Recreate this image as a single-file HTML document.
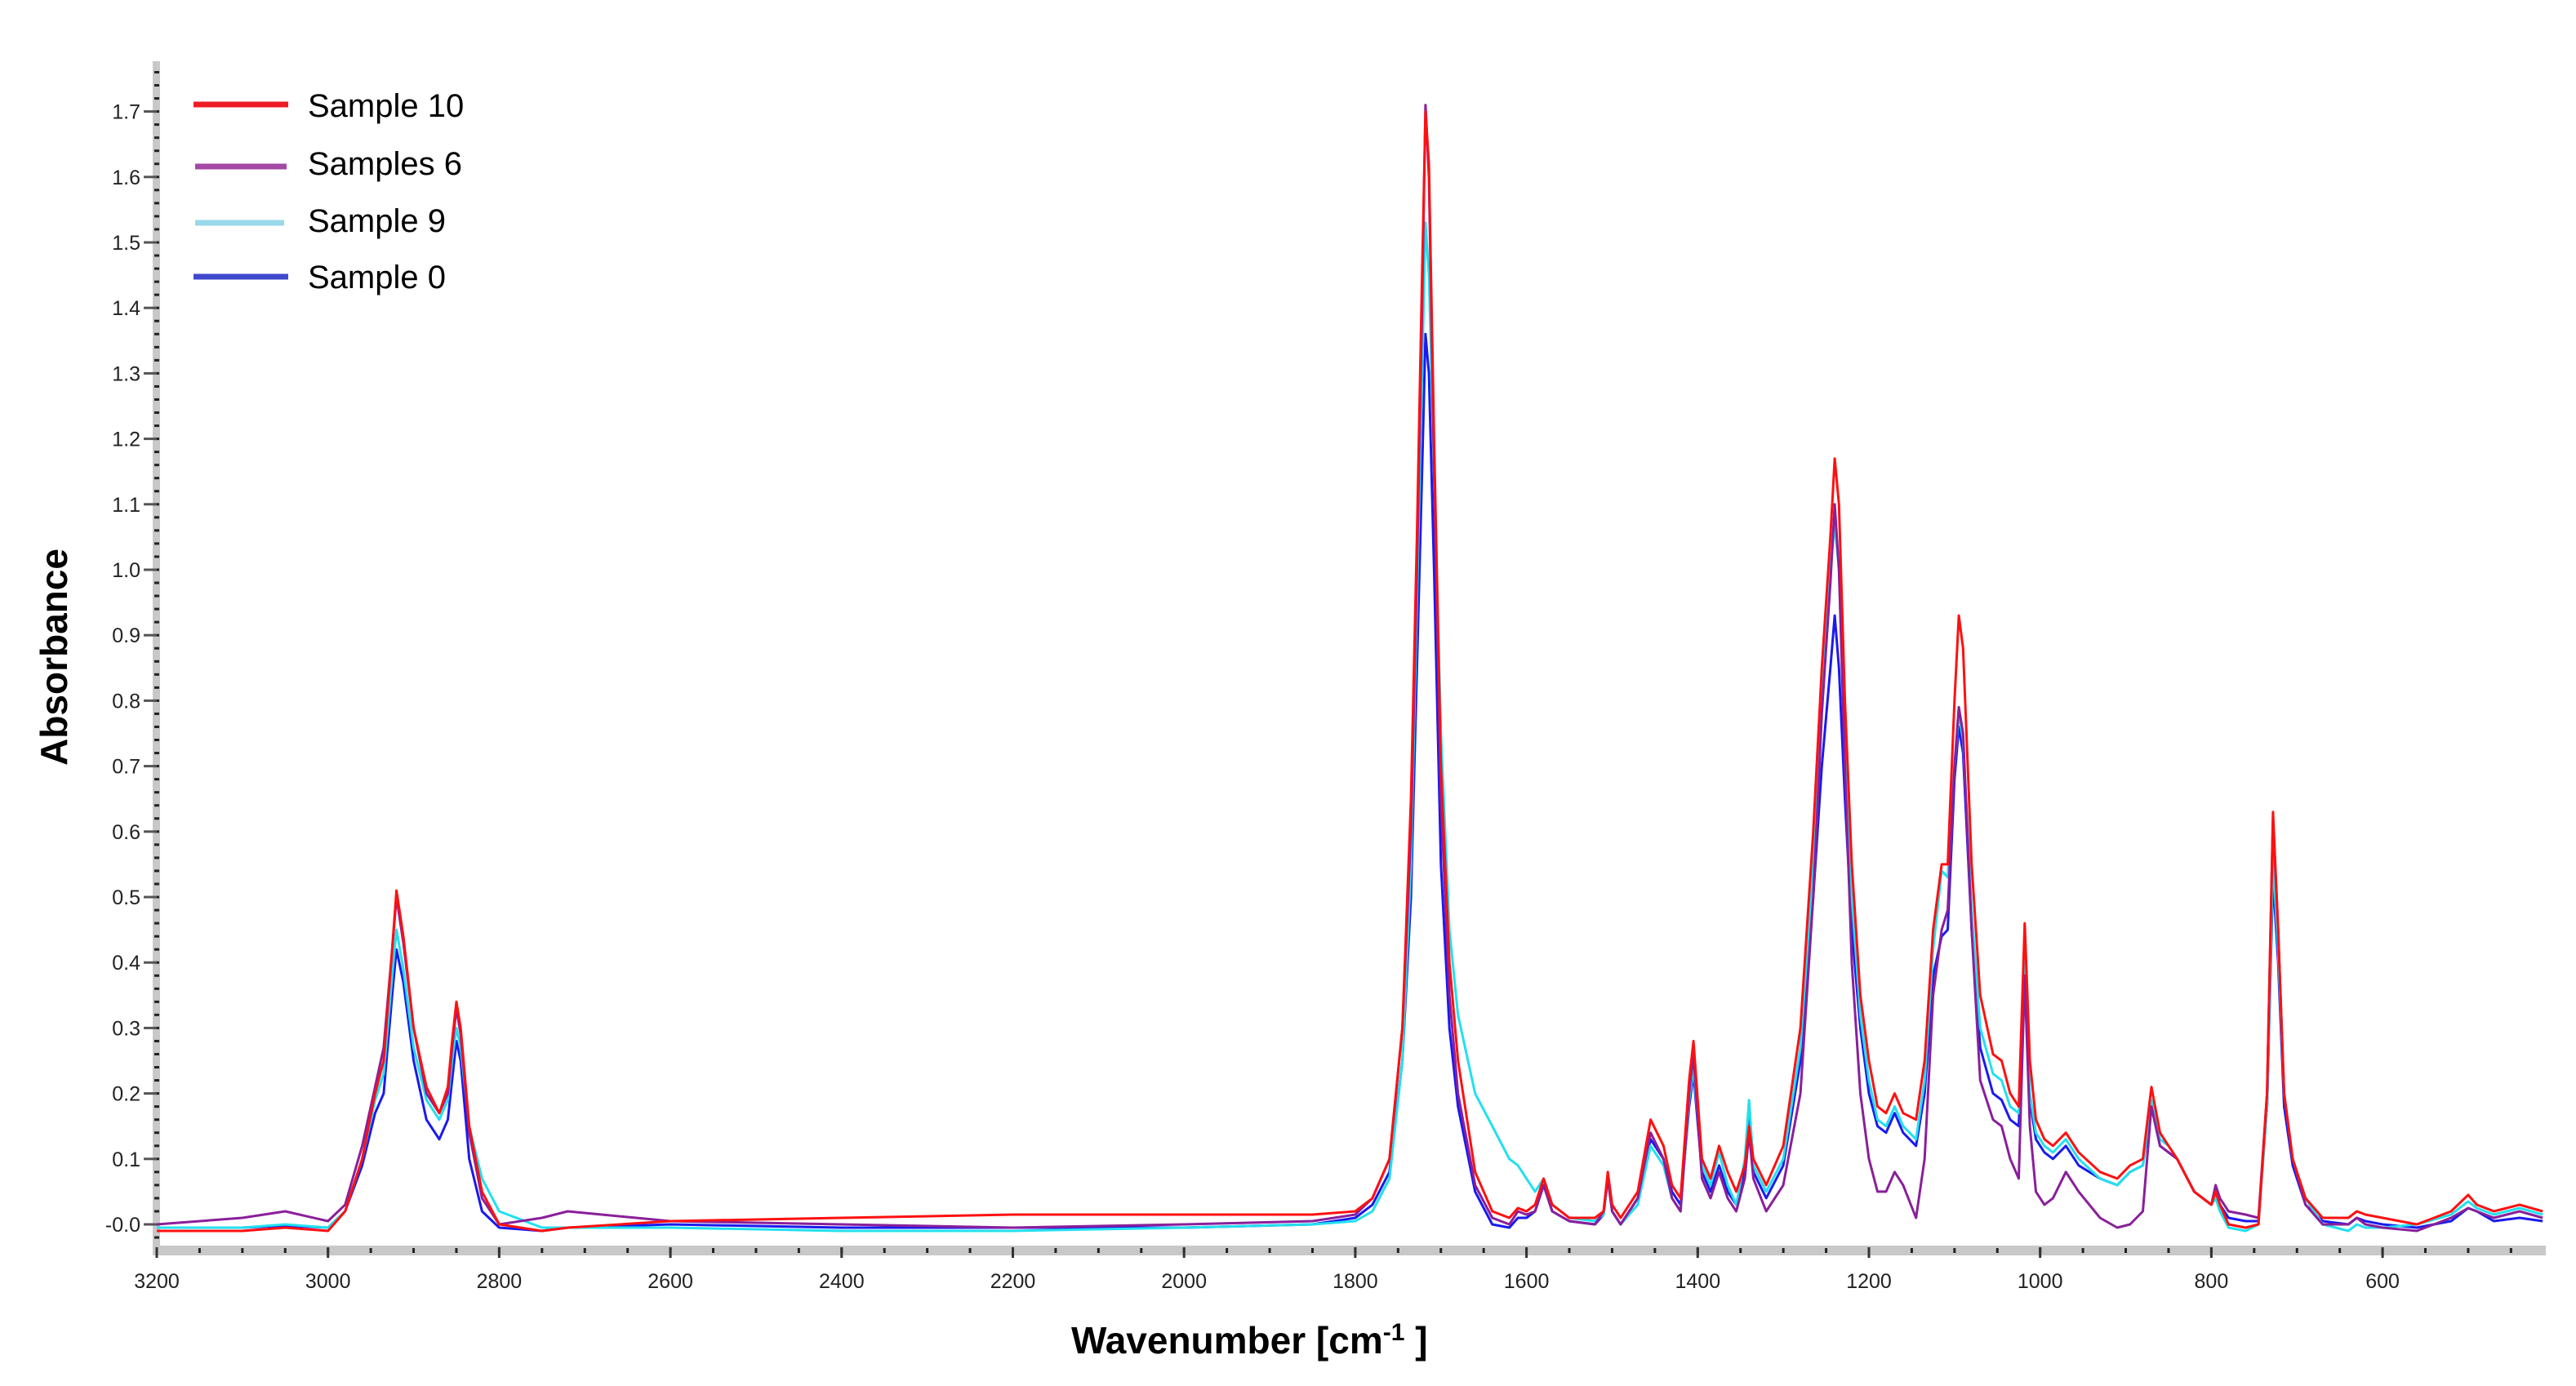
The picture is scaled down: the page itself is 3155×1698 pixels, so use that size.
<!DOCTYPE html>
<html><head><meta charset="utf-8"><style>
html,body{margin:0;padding:0;background:#fff;}
svg{display:block;}
text{font-family:"Liberation Sans",sans-serif;}
</style></head><body>
<svg id="chart" width="3155" height="1698" viewBox="0 0 3155 1698" xmlns="http://www.w3.org/2000/svg">
<rect width="3155" height="1698" fill="#fff"/>
<g id="axes"></g>
<g id="series"></g>
<g id="legend">
  <line x1="237" y1="128" x2="353" y2="128" stroke="#ee1c25" stroke-width="7"/>
  <text x="377" y="143" font-size="40">Sample 10</text>
  <line x1="239" y1="204" x2="351" y2="204" stroke="#a349a4" stroke-width="7"/>
  <text x="377" y="214" font-size="40">Samples 6</text>
  <line x1="239" y1="273" x2="348" y2="273" stroke="#99d9ea" stroke-width="7"/>
  <text x="377" y="284" font-size="40">Sample 9</text>
  <line x1="237" y1="339" x2="353" y2="339" stroke="#3f48cc" stroke-width="7"/>
  <text x="377" y="353" font-size="40">Sample 0</text>
</g>
<text x="82" y="805" font-size="46" font-weight="bold" text-anchor="middle" transform="rotate(-90 82 805)">Absorbance</text>
<text x="1312" y="1658" font-size="46" font-weight="bold">Wavenumber  [cm<tspan font-size="30" dy="-16">-1</tspan><tspan dy="16"> ]</tspan></text>
</svg>
<script>
const wavenumbers=[3200,3100,3050,3000,2980,2960,2945,2935,2925,2920,2912,2900,2885,2870,2860,2855,2850,2845,2835,2820,2800,2750,2720,2600,2400,2200,2000,1850,1800,1780,1760,1745,1735,1728,1722,1718,1714,1708,1700,1690,1680,1660,1640,1620,1610,1600,1590,1580,1570,1550,1520,1510,1505,1500,1490,1470,1455,1440,1430,1420,1410,1405,1395,1385,1375,1365,1355,1345,1340,1335,1320,1300,1280,1265,1255,1245,1240,1235,1228,1220,1210,1200,1190,1180,1170,1160,1145,1135,1125,1115,1108,1100,1095,1090,1080,1070,1055,1045,1035,1025,1018,1012,1005,995,985,970,955,930,910,895,880,870,860,850,840,820,800,795,790,780,760,745,735,728,722,715,705,690,670,640,630,620,600,560,520,500,490,470,440,413];
const sample10=[-0.01,-0.01,-0.005,-0.01,0.02,0.1,0.2,0.25,0.42,0.51,0.44,0.3,0.21,0.17,0.21,0.28,0.34,0.3,0.15,0.05,0.0,-0.01,-0.005,0.005,0.01,0.015,0.015,0.015,0.02,0.04,0.1,0.3,0.65,1.05,1.45,1.70,1.62,1.2,0.7,0.4,0.25,0.08,0.02,0.01,0.025,0.02,0.03,0.07,0.03,0.01,0.01,0.02,0.08,0.03,0.01,0.05,0.16,0.12,0.06,0.04,0.22,0.28,0.1,0.07,0.12,0.08,0.05,0.09,0.15,0.1,0.06,0.12,0.3,0.6,0.85,1.05,1.17,1.1,0.8,0.55,0.35,0.25,0.18,0.17,0.2,0.17,0.16,0.25,0.45,0.55,0.55,0.8,0.93,0.88,0.55,0.35,0.26,0.25,0.2,0.18,0.46,0.25,0.16,0.13,0.12,0.14,0.11,0.08,0.07,0.09,0.1,0.21,0.14,0.12,0.1,0.05,0.03,0.05,0.03,0.0,-0.005,0.0,0.2,0.63,0.45,0.2,0.1,0.04,0.01,0.01,0.02,0.015,0.01,0.0,0.02,0.045,0.03,0.02,0.03,0.02];
const samples6=[0.0,0.01,0.02,0.005,0.03,0.12,0.21,0.27,0.42,0.50,0.43,0.3,0.2,0.17,0.2,0.27,0.33,0.29,0.14,0.04,0.0,0.01,0.02,0.005,0.0,-0.005,0.0,0.005,0.015,0.04,0.1,0.3,0.6,1.0,1.4,1.71,1.6,1.15,0.65,0.35,0.2,0.06,0.01,0.0,0.02,0.015,0.02,0.06,0.02,0.005,0.0,0.02,0.07,0.02,0.0,0.04,0.14,0.1,0.04,0.02,0.2,0.26,0.07,0.04,0.08,0.04,0.02,0.07,0.14,0.07,0.02,0.06,0.2,0.5,0.78,0.98,1.10,1.0,0.7,0.4,0.2,0.1,0.05,0.05,0.08,0.06,0.01,0.1,0.35,0.45,0.48,0.7,0.79,0.75,0.45,0.22,0.16,0.15,0.1,0.07,0.38,0.15,0.05,0.03,0.04,0.08,0.05,0.01,-0.005,0.0,0.02,0.18,0.12,0.11,0.1,0.05,0.03,0.06,0.04,0.02,0.015,0.01,0.2,0.62,0.45,0.2,0.1,0.03,0.0,0.0,0.01,0.0,-0.005,-0.01,0.01,0.025,0.02,0.01,0.02,0.01];
const sample9=[-0.005,-0.005,0.0,-0.005,0.02,0.1,0.19,0.23,0.38,0.45,0.39,0.27,0.19,0.16,0.19,0.25,0.30,0.27,0.15,0.07,0.02,-0.005,-0.005,-0.005,-0.01,-0.01,-0.005,0.0,0.005,0.02,0.07,0.25,0.55,0.95,1.3,1.53,1.45,1.15,0.75,0.45,0.32,0.2,0.15,0.1,0.09,0.07,0.05,0.07,0.03,0.01,0.005,0.015,0.07,0.02,0.0,0.03,0.12,0.09,0.04,0.02,0.19,0.24,0.09,0.06,0.11,0.06,0.03,0.1,0.19,0.09,0.05,0.1,0.27,0.55,0.8,1.0,1.07,1.0,0.72,0.5,0.32,0.22,0.16,0.15,0.18,0.15,0.13,0.22,0.42,0.54,0.53,0.7,0.78,0.74,0.48,0.3,0.23,0.22,0.18,0.17,0.4,0.2,0.14,0.12,0.11,0.13,0.1,0.07,0.06,0.08,0.09,0.19,0.13,0.12,0.1,0.05,0.03,0.04,0.02,-0.005,-0.01,0.0,0.18,0.56,0.42,0.2,0.1,0.04,0.0,-0.01,0.0,-0.005,-0.005,0.0,0.015,0.035,0.025,0.015,0.025,0.015];
const sample0=[-0.005,-0.005,-0.002,-0.005,0.02,0.09,0.17,0.2,0.35,0.42,0.37,0.25,0.16,0.13,0.16,0.22,0.28,0.25,0.1,0.02,-0.005,-0.01,-0.005,0.0,-0.005,-0.005,-0.005,0.0,0.01,0.03,0.08,0.25,0.5,0.85,1.15,1.36,1.3,1.0,0.55,0.3,0.18,0.05,0.0,-0.005,0.01,0.01,0.02,0.06,0.02,0.005,0.0,0.015,0.07,0.02,0.0,0.04,0.13,0.1,0.05,0.03,0.18,0.23,0.08,0.05,0.09,0.05,0.03,0.08,0.16,0.08,0.04,0.09,0.25,0.5,0.7,0.85,0.93,0.85,0.65,0.45,0.3,0.2,0.15,0.14,0.17,0.14,0.12,0.2,0.38,0.44,0.45,0.68,0.76,0.72,0.45,0.27,0.2,0.19,0.16,0.15,0.37,0.19,0.13,0.11,0.1,0.12,0.09,0.07,0.06,0.08,0.09,0.18,0.12,0.11,0.1,0.05,0.03,0.05,0.03,0.01,0.005,0.005,0.18,0.53,0.4,0.18,0.09,0.03,0.005,0.0,0.01,0.005,0.0,-0.005,0.005,0.025,0.02,0.005,0.01,0.005];
const yTickLabels=["-0.0","0.1","0.2","0.3","0.4","0.5","0.6","0.7","0.8","0.9","1.0","1.1","1.2","1.3","1.4","1.5","1.6","1.7"];
const xTickLabels=["3200","3000","2800","2600","2400","2200","2000","1800","1600","1400","1200","1000","800","600"];

const NS="http://www.w3.org/2000/svg";
const X0=192,XR=3118,Y0=1500,YT=75,AX=1532;
function xs(w){return X0+(3200-w)*1.0485;}
function ys(a){return Y0-a*802;}
const axes=document.getElementById('axes');
function mk(tag,attrs,parent){const e=document.createElementNS(NS,tag);for(const k in attrs)e.setAttribute(k,attrs[k]);parent.appendChild(e);return e;}
// axis bars
let yb=mk('rect',{x:X0-5,y:YT,width:9,height:AX-YT+6,fill:'#c8c8c8'},axes);


let xb=mk('rect',{x:X0-5,y:AX-6,width:XR-X0+5,height:12,fill:'#c8c8c8'},axes);


// y minor ticks
for(let v=-0.06;v<=1.78;v+=0.02){const y=ys(v);if(y>AX-6||y<YT)continue;
 const t=mk('line',{x1:X0-3,x2:X0+3,y1:y,y2:y,stroke:'#222','stroke-width':3},axes);
 
 }
yTickLabels.forEach((lab,i)=>{const v=parseFloat(lab);const y=ys(i*0.1);
 const t=mk('line',{x1:X0-16,x2:X0,y1:y,y2:y,stroke:'#555','stroke-width':3},axes);
 
 
 const tx=mk('text',{x:X0-20,y:y+9,'font-size':25,'text-anchor':'end',fill:'#222'},axes);
 tx.textContent=lab;
 
 });
for(let w=3200;w>=413;w-=50){const x=xs(w);
 const t=mk('line',{x1:x,x2:x,y1:AX-3,y2:AX+3,stroke:'#222','stroke-width':3},axes);
 
 }
xTickLabels.forEach(lab=>{const x=xs(parseFloat(lab));
 const t=mk('line',{x1:x,x2:x,y1:AX-4,y2:AX+9,stroke:'#333','stroke-width':3},axes);
 
 
 const tx=mk('text',{x:x,y:AX+46,'font-size':25,'text-anchor':'middle',fill:'#222'},axes);
 tx.textContent=lab;
 
 });
// series
const sg=document.getElementById('series');
const seriesList=[[sample0,'#1a1aee','sample-0-line'],[sample9,'#22e0ee','sample-9-line'],[samples6,'#8a1f9a','samples-6-line'],[sample10,'#ff1010','sample-10-line']];
seriesList.forEach(s=>{const pts=wavenumbers.map((w,i)=>xs(w).toFixed(1)+','+ys(s[0][i]).toFixed(1)).join(' ');
 const p=mk('polyline',{points:pts,fill:'none',stroke:s[1],'stroke-width':3,'stroke-linejoin':'round'},sg);
 
 });
</script>
</body></html>
